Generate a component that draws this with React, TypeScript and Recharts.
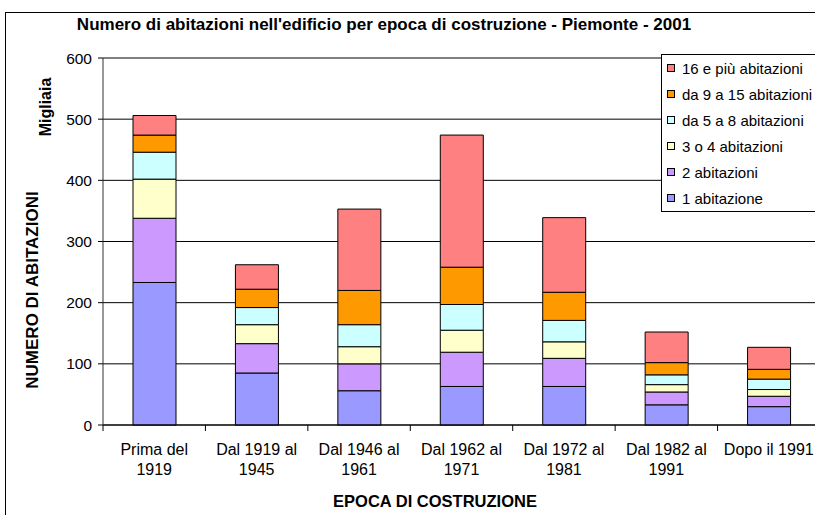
import { BarChart, Bar, XAxis, YAxis, CartesianGrid, Legend } from "recharts";

const FONT = '"Liberation Sans", Arial, sans-serif';

const categories = [
  "Prima del\n1919",
  "Dal 1919 al\n1945",
  "Dal 1946 al\n1961",
  "Dal 1962 al\n1971",
  "Dal 1972 al\n1981",
  "Dal 1982 al\n1991",
  "Dopo il 1991",
];

// migliaia di abitazioni per classe
const unaAbitazione = [233, 85, 56, 63, 63, 33, 30];
const dueAbitazioni = [105, 48, 44, 56, 46, 21, 17];
const treQuattro = [64, 31, 28, 36, 27, 12, 11];
const cinqueOtto = [44, 28, 36, 42, 35, 16, 17];
const noveQuindici = [28, 30, 56, 61, 46, 20, 16];
const sediciPiu = [32, 40, 133, 216, 122, 50, 36];

const yTicks = [0, 100, 200, 300, 400, 500, 600];

const series = [
  { key: "uno", name: "1 abitazione", color: "#9999FF", values: unaAbitazione },
  { key: "due", name: "2 abitazioni", color: "#CC99FF", values: dueAbitazioni },
  { key: "tre", name: "3 o 4 abitazioni", color: "#FFFFCC", values: treQuattro },
  { key: "cinque", name: "da 5 a 8 abitazioni", color: "#CCFFFF", values: cinqueOtto },
  { key: "nove", name: "da 9 a 15 abitazioni", color: "#FF9900", values: noveQuindici },
  { key: "sedici", name: "16 e più abitazioni", color: "#FF8080", values: sediciPiu },
];

const data = categories.map((c, i) => {
  const row: Record<string, string | number> = { epoca: c };
  series.forEach((s) => (row[s.key] = s.values[i]));
  return row;
});

const TICK_SIZE = 6;

function XTick(props: any) {
  const { x, y, payload } = props;
  const half = typeof payload.offset === "number" && payload.offset > 0 ? payload.offset : 51.2;
  const axisY = y - TICK_SIZE;
  const lines = String(payload.value).split("\n");
  return (
    <g>
      <line x1={x - half} x2={x - half} y1={axisY} y2={axisY + TICK_SIZE} stroke="#000" />
      <text x={x} y={y + 24} textAnchor="middle" fontFamily={FONT} fontSize={16} fill="#000">
        {lines.map((l, i) => (
          <tspan key={i} x={x} dy={i === 0 ? 0 : 20}>
            {l}
          </tspan>
        ))}
      </text>
    </g>
  );
}

// legend in Excel order: last series on top
function LegendBox(props: any) {
  const items = [...(props.payload || [])].sort(
    (a: any, b: any) =>
      series.findIndex((s) => s.name === b.value) - series.findIndex((s) => s.name === a.value)
  );
  return (
    <div
      style={{
        border: "1px solid #000",
        background: "#fff",
        width: 170,
        height: 158,
        boxSizing: "border-box",
        paddingLeft: 5,
        fontFamily: FONT,
        fontSize: 15,
        color: "#000",
      }}
    >
      {items.map((it: any) => (
        <div key={it.value} style={{ display: "flex", alignItems: "center", height: 26 }}>
          <span
            style={{
              width: 8,
              height: 8,
              boxSizing: "border-box",
              background: it.color,
              border: "1px solid #000",
              marginRight: 7,
              display: "inline-block",
            }}
          />
          <span style={{ whiteSpace: "nowrap" }}>{it.value}</span>
        </div>
      ))}
    </div>
  );
}

export default function App() {
  return (
    <div
      style={{
        position: "absolute",
        left: 0,
        top: 0,
        width: 815,
        height: 515,
        overflow: "hidden",
        background: "#fff",
      }}
    >
      <div
        style={{
          position: "absolute",
          left: 5,
          top: 12,
          width: 900,
          height: 600,
          borderLeft: "1px solid #000",
          borderTop: "1px solid #000",
        }}
      />
      <BarChart
        width={830}
        height={515}
        data={data}
        margin={{ top: 58, right: 10, left: 0, bottom: 0 }}
        barSize={43}
      >
        <CartesianGrid vertical={false} stroke="#000" />
        <XAxis
          dataKey="epoca"
          height={90}
          interval={0}
          tickSize={TICK_SIZE}
          tickMargin={0}
          tickLine={false}
          axisLine={{ stroke: "#000" }}
          tick={<XTick />}
        />
        <YAxis
          width={103}
          domain={[0, 600]}
          ticks={yTicks}
          interval={0}
          tickSize={5}
          tickMargin={6}
          axisLine={{ stroke: "#333" }}
          tickLine={{ stroke: "#000" }}
          tick={{ fill: "#000", fontSize: 15.5, fontFamily: FONT }}
        />
        <Legend
          layout="vertical"
          align="center"
          verticalAlign="middle"
          content={<LegendBox />}
          wrapperStyle={{ left: 661, top: 54, width: 170 }}
        />
        {series.map((s) => (
          <Bar
            key={s.key}
            dataKey={s.key}
            name={s.name}
            stackId="a"
            fill={s.color}
            stroke="#000"
            strokeWidth={1}
            isAnimationActive={false}
          />
        ))}
      </BarChart>
      <div
        style={{
          position: "absolute",
          left: 0,
          width: 768,
          top: 15,
          textAlign: "center",
          fontFamily: FONT,
          fontWeight: "bold",
          fontSize: 17,
          lineHeight: "20px",
          color: "#000",
        }}
      >
        Numero di abitazioni nell'edificio per epoca di costruzione - Piemonte - 2001
      </div>
      <div
        style={{
          position: "absolute",
          left: 435 - 150,
          width: 300,
          top: 491,
          textAlign: "center",
          fontFamily: FONT,
          fontWeight: "bold",
          fontSize: 16.5,
          lineHeight: "20px",
          color: "#000",
        }}
      >
        EPOCA DI COSTRUZIONE
      </div>
      <div
        style={{
          position: "absolute",
          left: 33 - 150,
          top: 290 - 10,
          width: 300,
          textAlign: "center",
          transform: "rotate(-90deg)",
          fontFamily: FONT,
          fontWeight: "bold",
          fontSize: 17,
          lineHeight: "20px",
          color: "#000",
        }}
      >
        NUMERO DI ABITAZIONI
      </div>
      <div
        style={{
          position: "absolute",
          left: 46 - 60,
          top: 107 - 10,
          width: 120,
          textAlign: "center",
          transform: "rotate(-90deg)",
          fontFamily: FONT,
          fontWeight: "bold",
          fontSize: 16,
          lineHeight: "20px",
          color: "#000",
        }}
      >
        Migliaia
      </div>
    </div>
  );
}
